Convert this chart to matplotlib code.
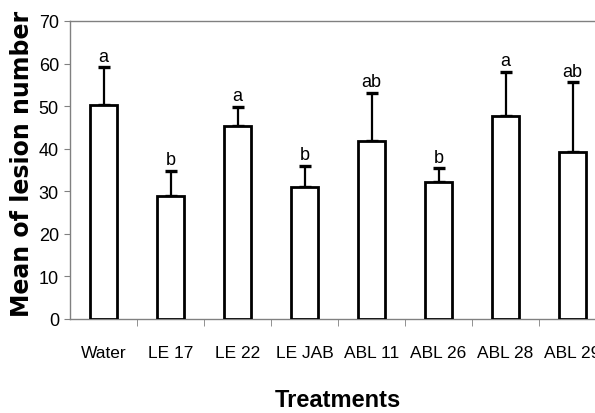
import numpy as np
import matplotlib
matplotlib.use('Agg')
import matplotlib.pyplot as plt
from matplotlib import font_manager

treatments = ["Water", "LE 17", "LE 22", "LE JAB", "ABL 11", "ABL 26", "ABL 28", "ABL 29"]
means = [50.3, 29.0, 45.4, 31.0, 41.9, 32.1, 47.7, 39.3]
errors = [8.8, 5.8, 4.4, 5.0, 11.2, 3.3, 10.4, 16.3]
letters = ["a", "b", "a", "b", "ab", "b", "a", "ab"]

names = {f.name for f in font_manager.fontManager.ttflist}
narrow = 'Liberation Sans Narrow' if 'Liberation Sans Narrow' in names else 'Liberation Sans'

grey = '#808080'
fig = plt.figure(figsize=(5.95, 4.14), dpi=100)
ax = fig.add_axes([70 / 595, 94 / 414, 536 / 595, 298 / 414])

x = np.arange(len(treatments))
ax.bar(x, means, 0.4, color='white', edgecolor='black', linewidth=2.0, zorder=3)
ax.errorbar(x, means, yerr=[np.zeros(len(errors)), errors], fmt='none',
            ecolor='black', elinewidth=1.6, capsize=4, capthick=2.4, zorder=2)

for xi, m, e, lab in zip(x, means, errors, letters):
    ax.annotate(lab, (xi, m + e), xytext=(0, 2), textcoords='offset points',
                ha='center', va='bottom', fontsize=13, family=narrow)

ax.set_xlim(-0.5, 7.5)
ax.set_ylim(0, 70)
ax.set_yticks(range(0, 71, 10))
ax.set_xticks(x, treatments)
ax.set_xticks(np.arange(0.5, 7.5, 1.0), minor=True)
ax.tick_params(axis='x', which='major', length=0, pad=19, labelsize=12.5)
ax.tick_params(axis='x', which='minor', length=5, color=grey, direction='out')
ax.tick_params(axis='y', length=4, color=grey, pad=4, labelsize=13)
for t in ax.get_xticklabels() + ax.get_yticklabels():
    t.set_family(narrow)

for s in ['left', 'bottom', 'top']:
    ax.spines[s].set_color(grey)
    ax.spines[s].set_linewidth(1.0)
ax.spines['right'].set_visible(False)

ax.set_xlabel('Treatments', fontsize=17, fontweight='bold', family=narrow, labelpad=20)
fig.text(22 / 595, 1 - 164 / 414, 'Mean of lesion number', rotation=90,
         ha='center', va='center', fontsize=17, fontweight='bold', family='DejaVu Sans')

fig.savefig('out.png', dpi=100)
